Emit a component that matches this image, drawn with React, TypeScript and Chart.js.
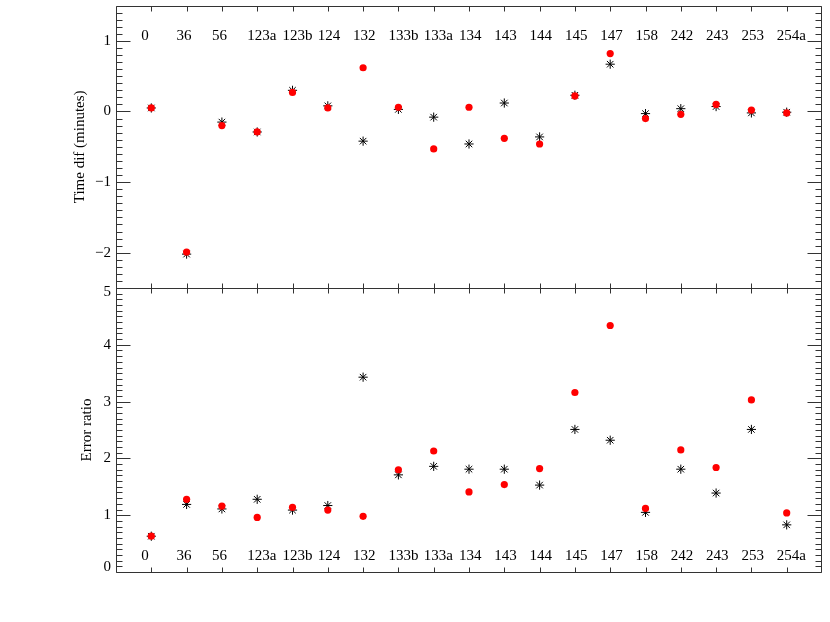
import React, { useEffect, useRef } from "react";
import { Chart, registerables } from "chart.js";

Chart.register(...registerables);

const categories = ["0", "36", "56", "123a", "123b", "124", "132", "133b", "133a", "134", "143", "144", "145", "147", "158", "242", "243", "253", "254a"];

const timeDifBlack = [0.05, -2.02, -0.15, -0.29, 0.3, 0.08, -0.42, 0.03, -0.08, -0.46, 0.12, -0.36, 0.23, 0.67, -0.03, 0.04, 0.07, -0.02, -0.01];
const timeDifRed = [0.05, -1.99, -0.2, -0.29, 0.27, 0.05, 0.62, 0.06, -0.53, 0.06, -0.38, -0.46, 0.22, 0.82, -0.1, -0.04, 0.1, 0.02, -0.02];

const errorRatioBlack = [0.63, 1.19, 1.11, 1.28, 1.09, 1.17, 3.43, 1.71, 1.86, 1.81, 1.81, 1.53, 2.51, 2.32, 1.05, 1.81, 1.39, 2.51, 0.83];
const errorRatioRed = [0.63, 1.28, 1.16, 0.96, 1.14, 1.09, 0.98, 1.8, 2.13, 1.41, 1.54, 1.82, 3.16, 4.34, 1.12, 2.15, 1.84, 3.03, 1.04];

const timeDifTicks = [-2, -1, 0, 1];
const errorRatioTicks = [0, 1, 2, 3, 4, 5];

const FONT = '15px "Liberation Serif", "DejaVu Serif", serif';

function fmt(v: number) {
  return v < 0 ? "\u2212" + Math.abs(v) : String(v);
}

function makeFramePlugin(o: { title: string; titleX: number; ticks: number[]; labelsAtTop: boolean }) {
  return {
    id: "frameTicks",
    afterDraw(chart: any) {
      const ctx = chart.ctx as CanvasRenderingContext2D;
      const { left, right, top, bottom } = chart.chartArea;
      const xs = chart.scales.x;
      const ys = chart.scales.y;
      const L = Math.round(left) + 0.5;
      const R = Math.round(right) - 0.5;
      const T = Math.round(top) + 0.5;
      const B = Math.round(bottom) + 0.5;
      ctx.save();
      ctx.strokeStyle = "#333";
      ctx.lineWidth = 1;
      ctx.beginPath();
      ctx.moveTo(L, T);
      ctx.lineTo(R, T);
      ctx.lineTo(R, B);
      ctx.lineTo(L, B);
      ctx.closePath();
      // y ticks (inward, both sides)
      for (let k = Math.ceil(ys.min * 10 - 1e-6); k <= Math.floor(ys.max * 10 + 1e-6); k++) {
        const v = k / 10;
        const py = Math.round(ys.getPixelForValue(v)) + 0.5;
        const major = k % 10 === 0;
        const len = major ? 14 : 6;
        ctx.moveTo(L, py);
        ctx.lineTo(L + len, py);
        ctx.moveTo(R, py);
        ctx.lineTo(R - len, py);
      }
      // x ticks (inward, top and bottom)
      categories.forEach((_, i) => {
        const px = Math.round(xs.getPixelForValue(i)) + 0.5;
        ctx.moveTo(px, T);
        ctx.lineTo(px, T + 5);
        ctx.moveTo(px, B);
        ctx.lineTo(px, B - 5);
      });
      ctx.stroke();

      ctx.fillStyle = "#000";
      ctx.font = FONT;
      // y tick labels
      ctx.textAlign = "right";
      ctx.textBaseline = "middle";
      o.ticks.forEach((v) => {
        let py = ys.getPixelForValue(v);
        py = Math.max(top + 4, Math.min(bottom - 5, py));
        ctx.fillText(fmt(v), left - 5, py);
      });
      // category labels inside plot
      ctx.textAlign = "left";
      const ly = o.labelsAtTop ? top + 30 : bottom - 16;
      categories.forEach((c, i) => {
        ctx.fillText(c, xs.getPixelForValue(i) - 10, ly);
      });
      // axis title
      ctx.save();
      ctx.translate(o.titleX, (top + bottom) / 2);
      ctx.rotate(-Math.PI / 2);
      ctx.textAlign = "center";
      ctx.textBaseline = "middle";
      ctx.fillText(o.title, 0, 0);
      ctx.restore();
      ctx.restore();
    },
  };
}

function buildChart(
  canvas: HTMLCanvasElement,
  black: number[],
  red: number[],
  yMin: number,
  yMax: number,
  padding: { top: number; bottom: number },
  plugin: any
) {
  return new Chart(canvas, {
    type: "scatter",
    data: {
      datasets: [
        {
          label: "red",
          data: red.map((v, i) => ({ x: i, y: v })),
          pointStyle: "circle",
          pointRadius: 3.6,
          pointBackgroundColor: "#ff0000",
          pointBorderWidth: 0,
          pointBorderColor: "#ff0000",
        },
        {
          label: "black",
          data: black.map((v, i) => ({ x: i, y: v })),
          pointStyle: "star",
          pointRadius: 4.6,
          pointBorderColor: "#000",
          pointBorderWidth: 1,
          pointBackgroundColor: "#000",
        },
      ],
    },
    options: {
      animation: false,
      responsive: false,
      devicePixelRatio: 1,
      layout: { padding: { left: 116, right: 8, top: padding.top, bottom: padding.bottom } },
      scales: {
        x: { type: "linear", min: -1, max: 19, display: false },
        y: { type: "linear", min: yMin, max: yMax, display: false },
      },
      plugins: { legend: { display: false }, tooltip: { enabled: false } },
    },
    plugins: [plugin],
  });
}

export default function App() {
  const topRef = useRef<HTMLCanvasElement>(null);
  const botRef = useRef<HTMLCanvasElement>(null);

  useEffect(() => {
    document.body.style.margin = "0";
    const c1 = buildChart(
      topRef.current!,
      timeDifBlack,
      timeDifRed,
      -2.5,
      1.5,
      { top: 5, bottom: 8 },
      makeFramePlugin({ title: "Time dif (minutes)", titleX: 80, ticks: timeDifTicks, labelsAtTop: true })
    );
    const c2 = buildChart(
      botRef.current!,
      errorRatioBlack,
      errorRatioRed,
      0,
      5,
      { top: 8, bottom: 50 },
      makeFramePlugin({ title: "Error ratio", titleX: 87.5, ticks: errorRatioTicks, labelsAtTop: false })
    );
    return () => {
      c1.destroy();
      c2.destroy();
    };
  }, []);

  return (
    <div style={{ position: "relative", width: 830, height: 622, background: "#fff" }}>
      <canvas ref={topRef} width={830} height={296} style={{ position: "absolute", left: 0, top: 0 }} />
      <canvas ref={botRef} width={830} height={342} style={{ position: "absolute", left: 0, top: 280 }} />
    </div>
  );
}
